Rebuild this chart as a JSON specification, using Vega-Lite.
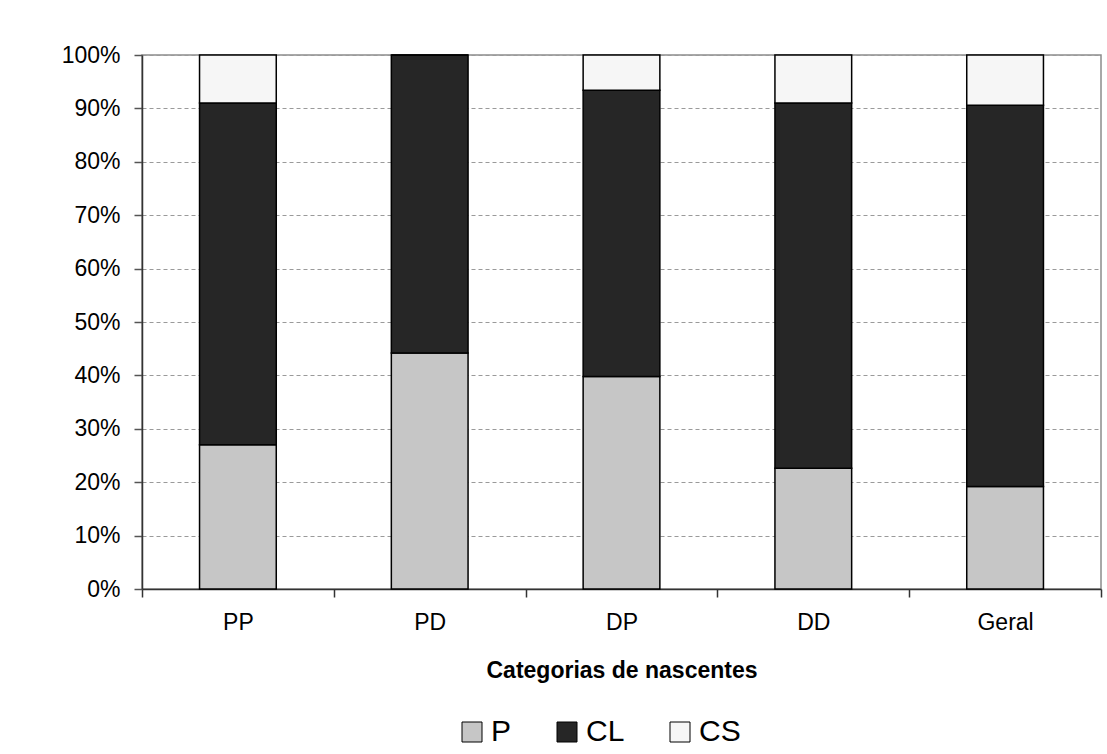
{
  "$schema": "https://vega.github.io/schema/vega-lite/v6.json",
  "width": 959,
  "height": 534,
  "autosize": {"type": "none"},
  "padding": {"left": 142, "top": 55, "right": 6, "bottom": 165},
  "background": "white",
  "config": {
    "font": "Liberation Sans",
    "view": {"stroke": "#8c8c8c", "strokeWidth": 1.5}
  },
  "data": {
    "values": [
      {"categoria": "PP", "classe": "P", "pct": 27.0},
      {"categoria": "PP", "classe": "CL", "pct": 64.0},
      {"categoria": "PP", "classe": "CS", "pct": 9.0},
      {"categoria": "PD", "classe": "P", "pct": 44.2},
      {"categoria": "PD", "classe": "CL", "pct": 55.8},
      {"categoria": "PD", "classe": "CS", "pct": 0.0},
      {"categoria": "DP", "classe": "P", "pct": 39.8},
      {"categoria": "DP", "classe": "CL", "pct": 53.6},
      {"categoria": "DP", "classe": "CS", "pct": 6.6},
      {"categoria": "DD", "classe": "P", "pct": 22.6},
      {"categoria": "DD", "classe": "CL", "pct": 68.4},
      {"categoria": "DD", "classe": "CS", "pct": 9.0},
      {"categoria": "Geral", "classe": "P", "pct": 19.2},
      {"categoria": "Geral", "classe": "CL", "pct": 71.4},
      {"categoria": "Geral", "classe": "CS", "pct": 9.4}
    ]
  },
  "transform": [
    {"calculate": "indexof(['P','CL','CS'], datum.classe)", "as": "ordem"}
  ],
  "mark": {"type": "bar", "width": {"band": 0.4}, "stroke": "black", "strokeWidth": 1.5},
  "encoding": {
    "x": {
      "field": "categoria",
      "type": "nominal",
      "sort": ["PP", "PD", "DP", "DD", "Geral"],
      "scale": {"paddingInner": 0, "paddingOuter": 0},
      "axis": {
        "title": "Categorias de nascentes",
        "labelAngle": 0,
        "grid": false,
        "tickBand": "extent",
        "tickSize": 8,
        "tickColor": "#333333",
        "tickWidth": 1.5,
        "domainColor": "#333333",
        "domainWidth": 1.5,
        "labelFontSize": 23,
        "labelPadding": 14,
        "labelColor": "black",
        "titleFontSize": 23,
        "titleFontWeight": "bold",
        "titleColor": "black",
        "titlePadding": 25
      }
    },
    "y": {
      "field": "pct",
      "type": "quantitative",
      "stack": "normalize",
      "scale": {"domain": [0, 1]},
      "axis": {
        "title": null,
        "format": ".0%",
        "values": [0, 0.1, 0.2, 0.3, 0.4, 0.5, 0.6, 0.7, 0.8, 0.9, 1],
        "grid": true,
        "gridDash": [4, 3],
        "gridColor": "#9a9a9a",
        "gridWidth": 1.2,
        "tickSize": 8,
        "tickColor": "#555555",
        "tickWidth": 1.5,
        "domainColor": "#333333",
        "domainWidth": 1.5,
        "labelFontSize": 23,
        "labelPadding": 14,
        "labelColor": "black"
      }
    },
    "color": {
      "field": "classe",
      "type": "nominal",
      "scale": {"domain": ["P", "CL", "CS"], "range": ["#c6c6c6", "#262626", "#f6f6f6"]},
      "legend": {
        "title": null,
        "orient": "none",
        "legendX": 315,
        "legendY": 662,
        "direction": "horizontal",
        "padding": 0,
        "symbolType": "square",
        "symbolSize": 400,
        "symbolStrokeColor": "black",
        "symbolStrokeWidth": 1,
        "symbolOpacity": 1,
        "labelFontSize": 30,
        "labelColor": "black",
        "labelOffset": 4,
        "columnPadding": 40
      }
    },
    "order": {"field": "ordem", "type": "quantitative"}
  }
}
